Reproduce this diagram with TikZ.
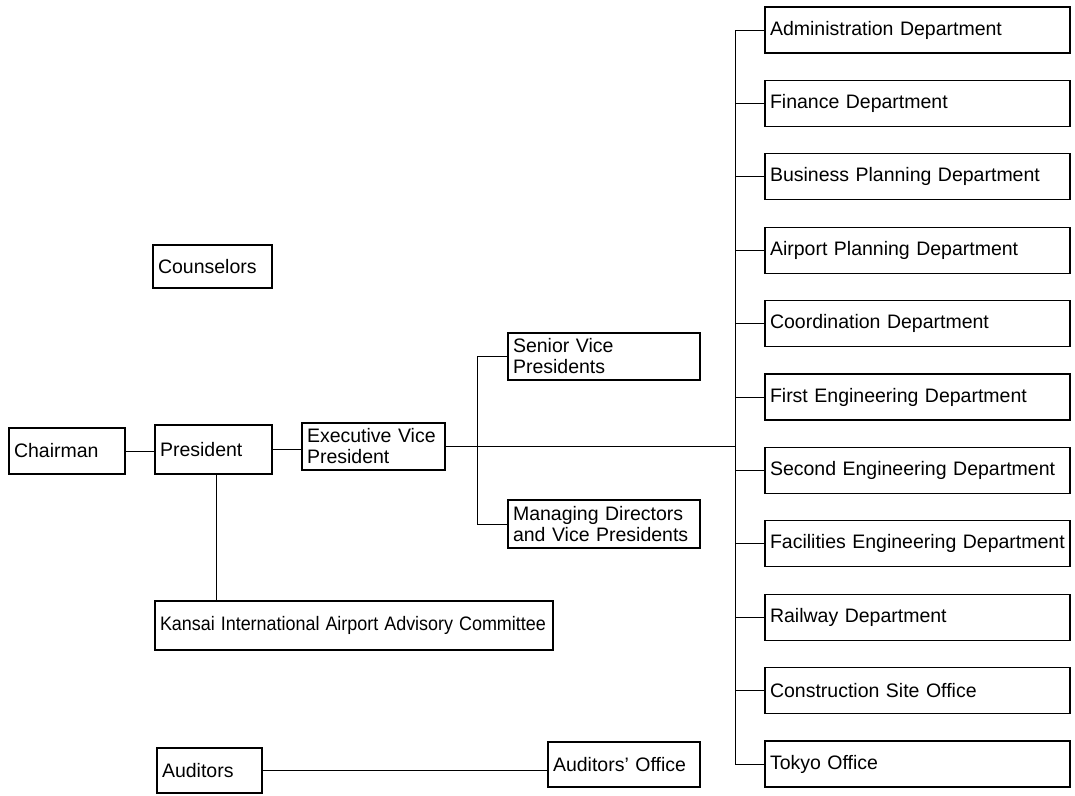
\documentclass[tikz,border=0pt]{standalone}
\usepackage{graphicx}
\usepackage{fontspec}
\setmainfont{Liberation Sans}
\begin{document}
\begin{tikzpicture}[x=1pt,y=-1pt,
  box/.style={draw,line width=1.1pt,inner xsep=5pt,inner ysep=0pt,align=left,
    font=\fontsize{19.5}{21}\selectfont},
  link/.style={line width=1pt}]
\useasboundingbox (0,0) rectangle (1075,795);
% left side
\node[box,text width=106pt,minimum height=46pt] (chair) at (67,451) {Chairman};
\node[box,text width=107pt,minimum height=49pt] (pres) at (213.5,449.5) {President};
\node[box,text width=133pt,minimum height=47pt] (evp) at (373.5,446.5) {Executive Vice\\President};
\node[box,text width=109pt,minimum height=43pt] (couns) at (212.5,266.5) {Counselors};
\node[box,text width=182pt,minimum height=47pt] (svp) at (604,356.5) {Senior Vice\\Presidents};
\node[box,text width=182pt,minimum height=48pt] (md) at (604,524) {Managing Directors\\and Vice Presidents};
\node[box,text width=388pt,minimum height=49pt] (kansai) at (354,625.5) {\scalebox{0.92}[1]{Kansai International Airport Advisory Committee}};
\node[box,text width=95pt,minimum height=45pt] (aud) at (209.5,770.5) {Auditors};
\node[box,text width=142pt,minimum height=45pt] (audoff) at (624,764.5) {Auditors' Office};
% departments
\foreach \i/\t in {0/Administration Department,1/Finance Department,2/Business Planning Department,
  3/Airport Planning Department,4/Coordination Department,5/First Engineering Department,
  6/Second Engineering Department,7/Facilities Engineering Department,8/Railway Department,
  9/Construction Site Office,10/Tokyo Office}{
  \node[box,text width=295pt,minimum height=46pt] (d\i) at (917.5,30+73.4*\i) {\mbox{\t}};
}
% connectors
\coordinate (ttop) at (735,30);
\coordinate (tbot) at (735,764);
\coordinate (btop) at (477,357);
\coordinate (bbot) at (477,524);
\draw[link] (chair.east) -- (pres.west |- chair.east);
\draw[link] (pres.east) -- (evp.west |- pres.east);
\draw[link] (evp.east) -- (evp.east -| ttop);
\draw[link] (ttop) -- (tbot);
\foreach \i in {0,...,10}{\draw[link] (d\i.west) -- (d\i.west -| ttop);}
\draw[link] (btop) -- (bbot);
\draw[link] (svp.west) -- (svp.west -| btop);
\draw[link] (md.west) -- (md.west -| btop);
\draw[link] ([xshift=3pt]pres.south) -- ([xshift=3pt]pres.south |- kansai.north);
\draw[link] (aud.east) -- (audoff.west |- aud.east);
\end{tikzpicture}
\end{document}
